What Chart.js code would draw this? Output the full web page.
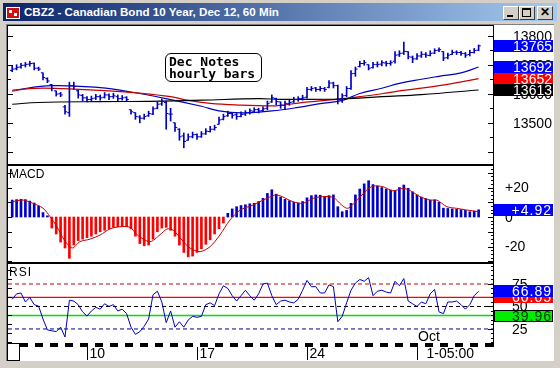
<!DOCTYPE html>
<html>
<head>
<meta charset="utf-8">
<script src="https://cdn.jsdelivr.net/npm/chart.js@4.4.1/dist/chart.umd.min.js"></script>
<style>
  body { margin:0; width:560px; height:368px; overflow:hidden; background:#d4d0c8; position:relative;
         font-family:"Liberation Sans", Arial, sans-serif; }
  .abs { position:absolute; }
  #titlebar { left:3px; top:3px; width:554px; height:18px; background:linear-gradient(90deg,#0a246a,#a6caf0); }
  #titletext { left:24px; top:3px; line-height:18px; color:#fff; font-weight:bold; font-size:11.6px; white-space:nowrap; }
  .btn { top:6px; width:14px; height:12px; background:#d4d0c8; border:1px solid; border-color:#fff #404040 #404040 #fff; }
  #client { left:6px; top:24px; width:547px; height:336px; background:#fff; border-top:1px solid #808080; border-left:1px solid #808080; }
  canvas { position:absolute; left:0; }
  .blk { position:absolute; background:#000; }
  .lbl { position:absolute; font-size:12px; color:#000; }
  #note { left:165px; top:53px; width:97px; height:29px; border:1px solid #000; border-radius:6px; background:#fff;
          font-family:"DejaVu Sans Mono", monospace; font-weight:bold; font-size:13px; line-height:12px; padding:2px 0 0 3px; box-sizing:border-box; }
</style>
</head>
<body>
<div class="abs" id="titlebar"></div>
<div class="abs" style="left:6px;top:7px;width:14px;height:12px;background:#d01010;border:1px solid #fff;box-sizing:border-box">
  <div class="abs" style="left:2px;top:2px;width:3px;height:3px;background:#fff"></div>
  <div class="abs" style="left:7px;top:5px;width:3px;height:3px;background:#fff"></div>
</div>
<div class="abs" id="titletext">CBZ2 - Canadian Bond 10 Year, Dec 12, 60 Min</div>
<div class="abs btn" style="left:503px"><div class="abs" style="left:3px;top:8px;width:6px;height:2px;background:#000"></div></div>
<div class="abs btn" style="left:519px"><div class="abs" style="left:2px;top:1px;width:7px;height:6px;border:1px solid #000;border-top-width:2px"></div></div>
<div class="abs btn" style="left:537px;font-weight:bold;font-size:12px;line-height:11px;text-align:center">&#x2715;</div>
<div class="abs" id="client"></div>

<canvas id="price" width="560" height="138" style="top:26px"></canvas>
<canvas id="macd" width="560" height="96" style="top:166px"></canvas>
<canvas id="rsi" width="560" height="98" style="top:264px"></canvas>

<div class="blk" style="left:7px;top:25px;width:486px;height:1px"></div>
<div class="blk" style="left:7px;top:164px;width:486px;height:2px"></div>
<div class="blk" style="left:7px;top:262px;width:486px;height:2px"></div>
<div class="blk" style="left:7px;top:25px;width:1px;height:318px"></div>
<div class="blk" style="left:493px;top:25px;width:1px;height:322px"></div>
<div class="abs" style="left:7px;top:343px;width:13px;height:18px;border:1px solid #000;background:#fff;box-sizing:border-box"></div>
<div class="lbl" style="left:9px;top:167px">MACD</div>
<div class="lbl" style="left:9px;top:265px;letter-spacing:1px">RSI</div>
<div class="abs" id="note">Dec Notes<br>hourly bars</div>

<script>
// hourly bars (one entry per bar, index 0..106)
const op = [13680,13686,13692,13698,13702,13705,13688,13672,13652,13632,
  13610,13600,13555,13535,13628,13610,13594,13586,13580,13585,
  13590,13588,13596,13590,13590,13584,13588,13545,13535,13520,
  13516,13524,13530,13550,13565,13570,13530,13500,13478,13455,
  13440,13452,13460,13452,13462,13470,13478,13495,13512,13524,
  13532,13528,13522,13530,13535,13540,13546,13542,13550,13572,
  13584,13572,13560,13566,13572,13580,13584,13588,13615,13620,
  13615,13618,13622,13637,13628,13582,13594,13618,13670,13694,
  13704,13700,13690,13700,13702,13706,13704,13712,13734,13740,
  13745,13726,13720,13730,13736,13732,13740,13750,13745,13724,
  13735,13743,13742,13738,13735,13742,13750];
const hi = [13695,13700,13705,13708,13712,13706,13692,13672,13655,13632,
  13610,13605,13560,13640,13640,13612,13598,13590,13592,13598,
  13596,13604,13600,13602,13596,13594,13590,13545,13535,13525,
  13530,13540,13555,13572,13582,13575,13550,13500,13480,13465,
  13462,13468,13462,13470,13480,13488,13492,13520,13530,13540,
  13536,13532,13538,13542,13548,13552,13550,13555,13575,13596,
  13585,13572,13575,13578,13588,13590,13595,13622,13625,13622,
  13625,13622,13645,13640,13630,13600,13625,13680,13692,13712,
  13715,13700,13708,13710,13714,13712,13714,13745,13748,13778,
  13745,13730,13738,13745,13742,13748,13755,13758,13745,13740,
  13750,13748,13746,13742,13750,13756,13768];
const lo = [13676,13682,13688,13692,13695,13682,13680,13648,13638,13610,
  13592,13590,13530,13522,13615,13585,13575,13572,13575,13580,
  13578,13585,13580,13584,13576,13578,13574,13530,13512,13500,
  13512,13522,13528,13548,13560,13478,13506,13470,13440,13414,
  13440,13448,13443,13450,13460,13468,13475,13495,13510,13522,
  13516,13512,13520,13525,13530,13536,13534,13538,13545,13570,
  13562,13550,13545,13560,13570,13574,13578,13585,13610,13608,
  13610,13608,13620,13620,13565,13570,13590,13615,13660,13692,
  13698,13682,13688,13692,13696,13695,13698,13705,13728,13735,
  13720,13707,13718,13725,13725,13730,13738,13745,13714,13720,
  13735,13735,13732,13725,13730,13740,13748];
const cl = [13685,13691,13698,13701,13704,13688,13685,13656,13644,13618,
  13599,13596,13538,13628,13625,13596,13586,13580,13583,13590,
  13586,13596,13590,13593,13583,13586,13580,13538,13522,13516,
  13522,13532,13548,13564,13573,13532,13530,13484,13452,13436,
  13452,13459,13452,13462,13471,13478,13484,13510,13522,13532,
  13526,13522,13529,13535,13541,13545,13541,13548,13567,13586,
  13573,13561,13567,13570,13580,13583,13586,13615,13618,13615,
  13618,13615,13637,13628,13580,13593,13618,13669,13685,13704,
  13707,13688,13701,13701,13707,13704,13707,13733,13739,13746,
  13727,13720,13730,13736,13733,13739,13749,13752,13723,13733,
  13742,13742,13739,13733,13742,13749,13765];

// moving averages, read at a few bar positions
const blueMaIdx = [0, 9, 20, 27, 36, 43, 47, 52, 59, 65, 70, 75, 79, 84, 88, 93, 97, 102, 106];
const blueMaVal = [13612,13628,13621,13606,13580,13557,13541,13534,13541,13553,13566,13577,13601,13619,13636,13650,13660,13672,13692];
const redMaIdx = [0, 4, 11, 20, 29, 36, 40, 45, 52, 59, 61, 65, 75, 79, 84, 88, 97, 106];
const redMaVal = [13609,13618,13618,13612,13602,13590,13577,13567,13561,13558,13560,13568,13583,13590,13600,13610,13628,13652];
const blackMaIdx = [0, 6, 20, 31, 43, 56, 61, 75, 84, 93, 106];
const blackMaVal = [13564,13570,13573,13574,13578,13583,13581,13582,13590,13597,13613];

// MACD histogram (per bar) and signal line
const macd = [11.5,11.8,12.0,11.8,10.8,9.5,7.5,3.0,0.8,-7.5,
  -11.5,-17,-21,-28,-19,-16,-15,-14,-13,-11.5,
  -10,-9,-8,-7,-6.6,-6.5,-6.6,-8,-13,-18,
  -19.5,-19,-15,-10,-7.5,-7,-9,-13,-19,-24,
  -27,-26.5,-24,-21.5,-18.5,-15.5,-11.5,-8,-4,2.5,
  5.5,7,7.8,8.3,9,9.3,10.5,12.7,16,18.5,
  15.5,13.5,12,11,10,9.5,10.5,13,14.5,15,
  14.8,14,14.5,15,7,3.6,4.5,9.3,15,19,
  22.5,24.6,22,21,20,19,18.3,18,20,21.7,
  19.5,17,15,13.5,12.5,11.5,11.5,10,6,5.8,
  5.5,5.2,5,4.5,3.6,4,4.92];
const sigIdx = [0,2.5,4.7,7,8.6,10.2,11.5,13.6,15.4,17.7,20,22.2,24.5,26.8,28.4,31.3,33.6,35.2,36.6,38.6,
  40.4,42.7,45,47.2,49.5,51.8,54.7,57.9,60.2,63.8,66.1,68.4,70.6,73,74.9,76.3,78.4,80.6,82,84.3,
  86.5,88.8,90.4,92.7,95,96.5,98.8,101,103.4,106];
const sigVal = [10.4,11.5,9.3,6,0.2,-6.6,-14,-21,-16.7,-15,-12.2,-8.1,-6.6,-7,-12,-16.7,-12,-8.1,-9,-15.6,
  -21,-23.5,-20,-12.2,-2,4.7,8.1,12.7,15,10.4,9.3,12.7,13.8,13.2,8.1,5.9,11.5,18.3,21,20.5,
  17.8,19.4,18,13.8,11.5,11.5,7,5.9,4.7,3.6];

// RSI (per bar) and its level lines
const rsi = [58,64,65,55,60,52,50.4,36,24,23,
  22,27,16,57,56,52,44,39.3,45,49,
  47,53,50,52,45,47,42,27,19,22,
  28,36,63,67,55,32,45,27,33,27,
  35,39,38,39,52,54,51,64,73,70,
  62,56,62,68,62,57,64,75,76,62,
  52,56,57,55,54,58,68,79,72,72,
  65,65,74,72,33,39,54,68,76,80,
  78,82,62,67,68,66,65,78,73,81,
  56,53,50,55,53,64,69,44,42,55,
  55,56,52,47,52,62,66.89];
const rsiLevels = [75, 60.05, 50, 39.96, 25];

// axis labels
const priceTicks = [13800, 13700, 13600, 13500];
const macdTicks = [20, 0, -20];
const rsiTicks = [75, 50, 25];
const dayIdx = [17, 42, 67, 92];
const dayLabels = ['10', '17', '24', '1-05:00'];
const monthIdx = 92;
const monthLabel = 'Oct';

const X_MIN = -0.9545, X_MAX = 109.27;
const BLUE = '#0000c0';
const pts = (xs, ys) => ys.map((v, i) => ({ x: xs ? xs[i] : i, y: v }));

const deco = {
  price: { left: [[50, 3], [100, 5]], right: [[50, 3], [100, 5]], ticks: priceTicks, fmt: v => String(v), labelX: 513,
    boxes: [
      { v: cl[cl.length - 1], bg: '#0000ff', fg: '#fff' },
      { v: blueMaVal[blueMaVal.length - 1], bg: '#0000ff', fg: '#fff' },
      { v: redMaVal[redMaVal.length - 1], bg: '#ff0000', fg: '#fff' },
      { v: blackMaVal[blackMaVal.length - 1], bg: '#000', fg: '#fff' }
    ] },
  macd: { left: [[10, 4]], right: [[2.5, 2], [10, 5]], ticks: macdTicks, fmt: v => v > 0 ? '+' + v : String(v), labelX: 505,
    boxes: [ { v: macd[macd.length - 1], text: '+' + macd[macd.length - 1].toFixed(2), bg: '#0000ff', fg: '#fff', ls: '1px' } ] },
  rsi: { left: [[10, 4]], right: [[5, 2], [25, 5]], ticks: rsiTicks, fmt: v => String(v), labelX: 512,
    boxes: [
      { v: rsiLevels[1], bg: '#ff0000', fg: '#fff', ls: '1px' },
      { v: rsi[rsi.length - 1], bg: '#0000ff', fg: '#fff', ls: '1px' },
      { v: rsiLevels[3], bg: '#00ee00', fg: '#003300', line: '#000', ls: '1px' }
    ], time: true }
};

const panelDeco = {
  id: 'panelDeco',
  afterDraw(chart) {
    const o = deco[chart.canvas.id];
    const ctx = chart.ctx, a = chart.chartArea, y = chart.scales.y, x = chart.scales.x;
    ctx.save();
    ctx.strokeStyle = '#000';
    ctx.lineWidth = 1;
    const tick = (step, len, side) => {
      for (let v = Math.ceil(y.min / step) * step; v <= y.max; v += step) {
        const py = Math.round(y.getPixelForValue(v)) + 0.5;
        ctx.beginPath();
        if (side) { ctx.moveTo(a.right, py); ctx.lineTo(a.right - len, py); }
        else { ctx.moveTo(a.left, py); ctx.lineTo(a.left + len, py); }
        ctx.stroke();
      }
    };
    o.left.forEach(t => tick(t[0], t[1], false));
    o.right.forEach(t => tick(t[0], t[1], true));

    ctx.font = '14px "Liberation Sans", Arial, sans-serif';
    ctx.fillStyle = '#000';
    ctx.textBaseline = 'middle';
    ctx.textAlign = 'left';
    o.ticks.forEach(v => ctx.fillText(o.fmt(v), o.labelX, y.getPixelForValue(v) + 1));

    o.boxes.forEach(b => {
      const py = Math.round(y.getPixelForValue(b.v));
      ctx.fillStyle = b.bg;
      ctx.fillRect(a.right + 1, py - 6, 59, 12);
      if (b.line) { ctx.strokeStyle = b.line; ctx.strokeRect(a.right + 1.5, py - 5.5, 58, 11); }
      ctx.fillStyle = b.fg;
      ctx.textAlign = 'right';
      ctx.letterSpacing = b.ls || '0px';
      ctx.fillText(b.text || String(b.v), a.right + 59, py + 1);
      ctx.letterSpacing = '0px';
    });

    if (o.time) {
      ctx.strokeStyle = '#000';
      ctx.lineWidth = 4;
      ctx.setLineDash([8, 7]);
      ctx.beginPath();
      ctx.moveTo(20, a.bottom + 2);
      ctx.lineTo(a.right, a.bottom + 2);
      ctx.stroke();
      ctx.setLineDash([]);
      ctx.lineWidth = 1;
      ctx.fillStyle = '#000';
      ctx.textAlign = 'left';
      dayIdx.forEach((d, k) => {
        const px = Math.round(x.getPixelForValue(d)) + 0.5;
        ctx.beginPath();
        ctx.moveTo(px, a.bottom + 4);
        ctx.lineTo(px, a.bottom + 17);
        ctx.stroke();
        ctx.fillText(dayLabels[k], px + (dayLabels[k].length > 2 ? 9 : 2), a.bottom + 11);
      });
      ctx.fillText(monthLabel, Math.round(x.getPixelForValue(monthIdx)) + 1, a.bottom - 6);
    }
    ctx.restore();
  }
};

function opts(yMin, yMax, padBottom) {
  return {
    responsive: false,
    animation: false,
    events: [],
    layout: { padding: { left: 8, right: 67, top: 0, bottom: padBottom || 0 } },
    plugins: { legend: { display: false }, tooltip: { enabled: false } },
    scales: {
      x: { type: 'linear', min: X_MIN, max: X_MAX, display: false, offset: false },
      y: { min: yMin, max: yMax, display: false }
    }
  };
}

const maLine = (xs, ys, color) => ({
  type: 'line', data: pts(xs, ys), borderColor: color, borderWidth: 1.2,
  pointRadius: 0, tension: 0.4, order: 5
});

new Chart(document.getElementById('price'), {
  type: 'bar',
  data: {
    datasets: [
      { data: lo.map((v, i) => ({ x: i, y: [v, hi[i]] })), backgroundColor: BLUE, barThickness: 1, borderWidth: 0, order: 0 },
      { type: 'line', data: pts(null, cl), showLine: false, pointStyle: 'dash', pointRadius: 2.2,
        pointBorderWidth: 1, pointBorderColor: BLUE, pointRotation: 0, order: 0 },
      { type: 'line', data: pts(null, op), showLine: false, pointStyle: 'dash', pointRadius: 2.2,
        pointBorderWidth: 1, pointBorderColor: BLUE, pointRotation: 180, order: 0 },
      maLine(blackMaIdx, blackMaVal, '#000'),
      maLine(redMaIdx, redMaVal, '#c80000'),
      maLine(blueMaIdx, blueMaVal, BLUE)
    ]
  },
  options: opts(13375.5, 13816),
  plugins: [panelDeco]
});

new Chart(document.getElementById('macd'), {
  type: 'bar',
  data: {
    datasets: [
      { data: pts(null, macd), backgroundColor: macd.map(v => v >= 0 ? '#0000cc' : '#ff0000'),
        barThickness: 2, borderWidth: 0, order: 2 },
      { type: 'line', data: pts(sigIdx, sigVal), borderColor: '#c80000', borderWidth: 1,
        pointRadius: 0, tension: 0.3, order: 1 }
    ]
  },
  options: opts(-30.5, 34.6),
  plugins: [panelDeco]
});

const levelStyle = [
  { c: '#c80000', d: [4, 3], w: 1 },
  { c: '#ff0000', d: [], w: 1.2 },
  { c: '#000000', d: [4, 3], w: 1 },
  { c: '#00e000', d: [], w: 1.6 },
  { c: '#000080', d: [4, 3], w: 1 }
];

new Chart(document.getElementById('rsi'), {
  type: 'line',
  data: {
    datasets: [
      { data: pts(null, rsi), borderColor: BLUE, borderWidth: 1, pointRadius: 0, tension: 0, order: 0 }
    ].concat(rsiLevels.map((lv, k) => ({
      data: [{ x: X_MIN, y: lv }, { x: X_MAX, y: lv }], borderColor: levelStyle[k].c,
      borderDash: levelStyle[k].d, borderWidth: levelStyle[k].w, pointRadius: 0, order: 3
    })))
  },
  options: opts(9.4, 97.2, 19),
  plugins: [panelDeco]
});
</script>
</body>
</html>
